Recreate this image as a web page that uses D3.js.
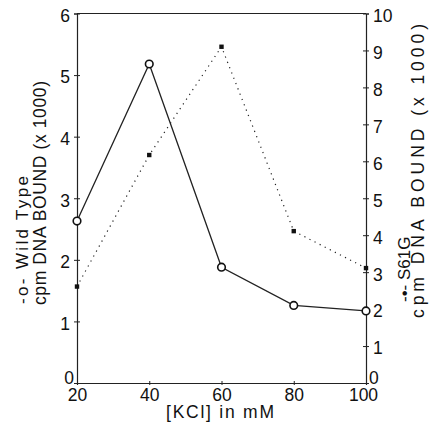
<!DOCTYPE html>
<html><head><meta charset="utf-8">
<script src="https://cdn.jsdelivr.net/npm/d3@7"></script>
<style>body{margin:0;background:#fff}svg text{font-family:"Liberation Sans",Arial,sans-serif;fill:#111}</style>
</head><body>
<script>
const kcl = [20, 40, 60, 80, 100];
const wildType = [2.63, 5.18, 1.88, 1.26, 1.17];
const s61g = [2.61, 6.17, 9.10, 4.11, 3.11];
const leftTicks = [0, 1, 2, 3, 4, 5, 6];
const rightTicks = [0, 1, 2, 3, 4, 5, 6, 7, 8, 9, 10];
const xTicks = [20, 40, 60, 80, 100];

const W = 430, H = 422;
const L = 77, R = 366, T = 13.5, B = 383;
const svg = d3.select("body").append("svg").attr("width", W).attr("height", H);

const x = d3.scaleLinear().domain([20, 100]).range([L, R]);
const yL = d3.scaleLinear().domain([0, 6]).range([B, T]);
const yR = d3.scaleLinear().domain([0, 10]).range([B, T]);
const ink = "#222";

// frame top
svg.append("line").attr("x1", L).attr("x2", R).attr("y1", T).attr("y2", T)
  .attr("stroke", ink).attr("stroke-width", 1.2);

// left axis
const gL = svg.append("g").attr("transform", `translate(${L},0)`)
  .call(d3.axisLeft(yL).tickValues(leftTicks).tickFormat(d3.format("d")).tickSize(3).tickPadding(4));
gL.selectAll(".tick line").attr("x1", -3).attr("x2", 3);
gL.selectAll(".tick text").attr("font-size", 17.5).attr("dy", "0.45em");
gL.selectAll(".tick").filter(d => d === 0).select("text").attr("dy", "0.05em").attr("x", -3);

// right axis
const gR = svg.append("g").attr("transform", `translate(${R},0)`)
  .call(d3.axisRight(yR).tickValues(rightTicks).tickFormat(d3.format("d")).tickSize(3).tickPadding(4));
gR.selectAll(".tick line").attr("x1", -3).attr("x2", 3);
gR.selectAll(".tick text").attr("font-size", 17.5).attr("dy", "0.45em");
gR.selectAll(".tick").filter(d => d === 0).select("text").attr("dy", "0.05em").attr("x", 3);

// bottom axis
const gB = svg.append("g").attr("transform", `translate(0,${B})`)
  .call(d3.axisBottom(x).tickValues(xTicks).tickFormat(d3.format("d")).tickSize(2).tickPadding(3));
gB.selectAll(".tick line").attr("y1", -2).attr("y2", 2);
gB.selectAll(".tick text").attr("font-size", 17.5).attr("dy", "0.75em");
gB.selectAll(".tick").filter(d => d === 100).select("text").attr("x", -3);

[gL, gR, gB].forEach(g => {
  g.select(".domain").attr("stroke", ink).attr("stroke-width", 1.2);
  g.selectAll(".tick line").attr("stroke", ink);
  g.selectAll(".tick text").attr("fill", "#111").attr("font-family", '"Liberation Sans",Arial,sans-serif');
});

// S61G dotted line
const lineR = d3.line().x((d, i) => x(kcl[i])).y(d => yR(d));
svg.append("path").datum(s61g).attr("d", lineR).attr("fill", "none")
  .attr("stroke", ink).attr("stroke-width", 1.2).attr("stroke-dasharray", "1.2,4.5");
svg.selectAll("rect.s").data(s61g).join("rect").attr("class", "s")
  .attr("x", (d, i) => x(kcl[i]) - 2.2).attr("y", d => yR(d) - 2.2)
  .attr("width", 4.4).attr("height", 4.4).attr("fill", "#111");

// Wild type solid line
const lineL = d3.line().x((d, i) => x(kcl[i])).y(d => yL(d));
svg.append("path").datum(wildType).attr("d", lineL).attr("fill", "none")
  .attr("stroke", ink).attr("stroke-width", 1.3);
svg.selectAll("circle.w").data(wildType).join("circle").attr("class", "w")
  .attr("cx", (d, i) => x(kcl[i])).attr("cy", d => yL(d)).attr("r", 3.8)
  .attr("fill", "#fff").attr("stroke", "#111").attr("stroke-width", 1.6);

// axis titles
svg.append("text").attr("text-anchor", "start").attr("x", 166).attr("y", 418)
  .attr("font-size", 17.5).attr("textLength", 108).attr("lengthAdjust", "spacing").text("[KCl] in mM");

function vtext(xp, yp, s, size, len) {
  const t = svg.append("text").attr("transform", `translate(${xp},${yp}) rotate(-90)`)
    .attr("text-anchor", "start").attr("font-size", size).text(s);
  if (len) t.attr("textLength", len).attr("lengthAdjust", "spacing");
  return t;
}
vtext(28, 304, "-o-  Wild Type", 17, 128);
vtext(46, 305, "cpm DNA BOUND (x 1000)", 17.5, 224);
vtext(410, 302, "-•-  S61G", 17);
vtext(424, 318, "cpm DNA BOUND (x 1000)", 17.5, 294);
</script>
</body></html>
